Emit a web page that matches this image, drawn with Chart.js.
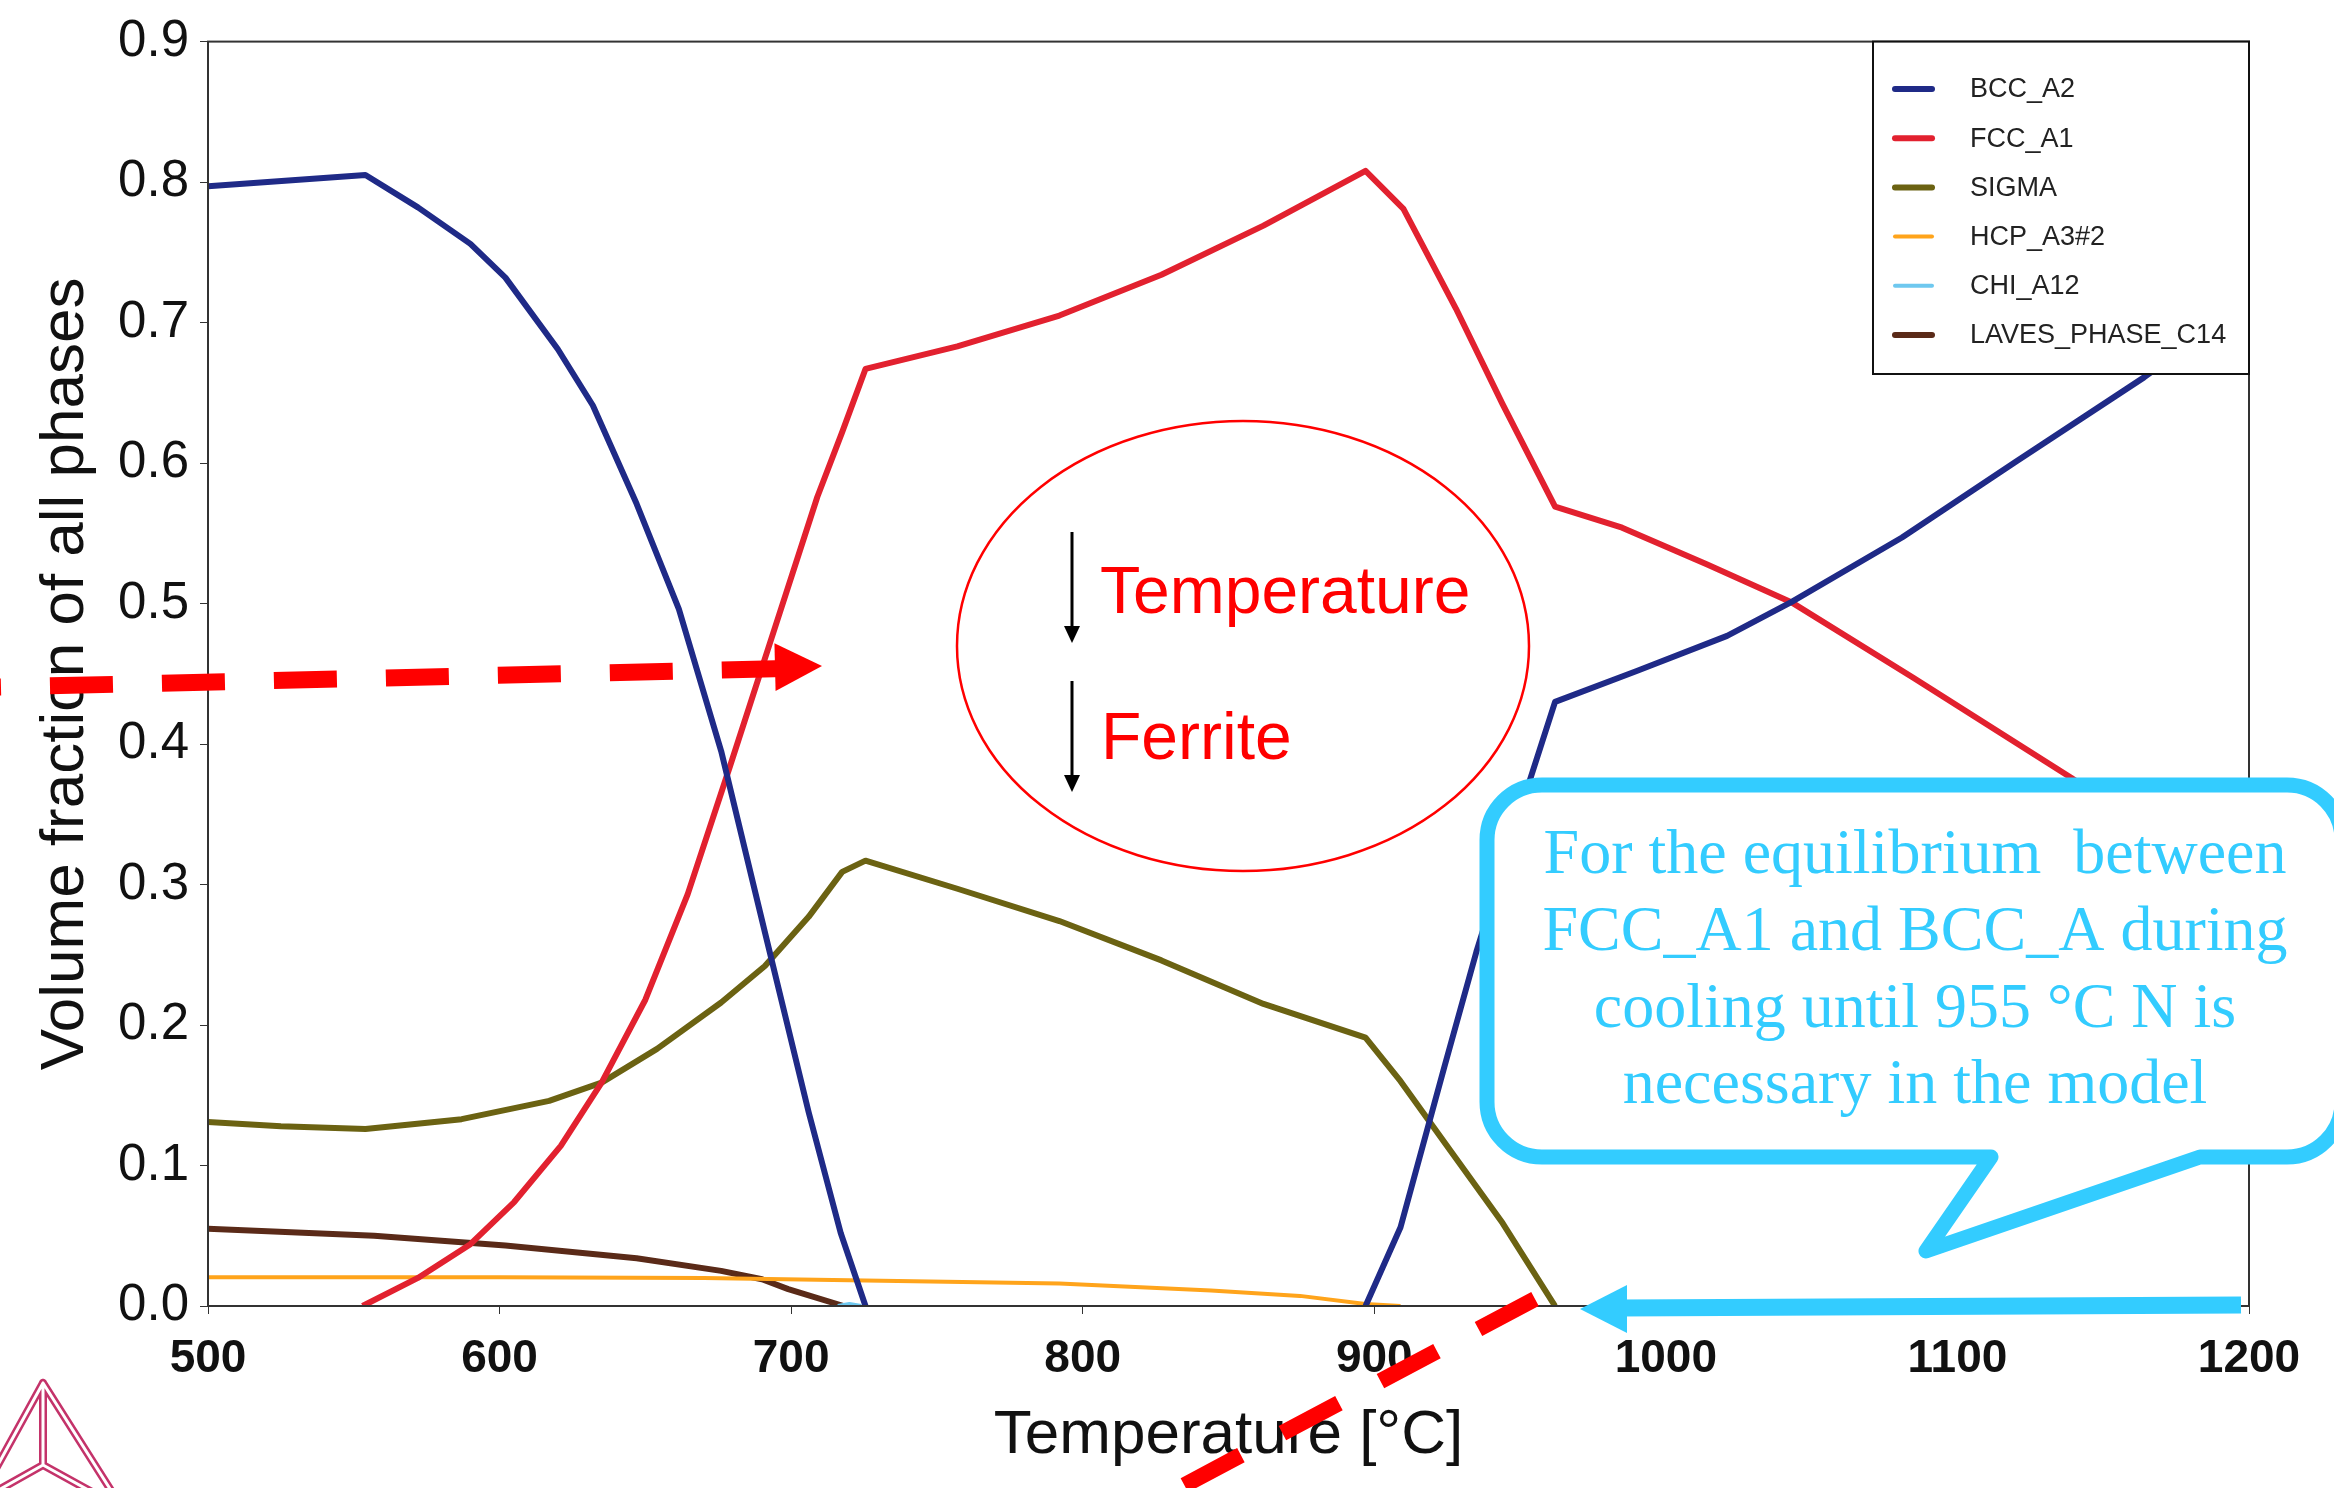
<!DOCTYPE html>
<html lang="en">
<head>
<meta charset="UTF-8">
<title>Volume fraction of all phases</title>
<style>
  html, body { margin: 0; padding: 0; background: #fff; }
  canvas { display: block; }
</style>
</head>
<body>
<canvas id="chart" width="2334" height="1488"></canvas>

<script src="https://cdn.jsdelivr.net/npm/chart.js@4.4.1/dist/chart.umd.min.js"></script>

<script>
// ------------------------------ data ------------------------------
// temperature [°C] and volume fraction for every phase (null = break in the line)
const bccT = [500, 554, 572, 590, 602, 620, 632, 647, 661.5, 676, 691, 706, 717, 725.5,
              800, 897, 909, 924, 935, 953, 962, 990, 1021, 1043, 1081, 1120, 1164, 1200];
const bccV = [0.797, 0.805, 0.782, 0.756, 0.732, 0.681, 0.641, 0.571, 0.496, 0.395, 0.266, 0.138, 0.052, 0.000,
              null, 0.000, 0.056, 0.170, 0.252, 0.372, 0.430, 0.452, 0.477, 0.501, 0.547, 0.601, 0.661, 0.715];

const fccT = [553, 572, 590, 605, 621, 635, 650, 664.5, 679, 694, 709, 717.5, 725.5, 757, 792, 827, 862, 897,
              910, 928, 944, 962, 985, 1014, 1043, 1085, 1139, 1200];
const fccV = [0.000, 0.020, 0.044, 0.074, 0.114, 0.159, 0.218, 0.293, 0.384, 0.480, 0.576, 0.622, 0.667, 0.683, 0.705, 0.734, 0.769, 0.808,
              0.781, 0.710, 0.642, 0.569, 0.554, 0.528, 0.501, 0.447, 0.376, 0.290];

const sigmaT = [500, 525, 554, 587, 617, 635, 654, 676, 691, 706, 717.5, 725.5, 757, 792, 827, 862, 897, 909, 927, 944, 962];
const sigmaV = [0.131, 0.128, 0.126, 0.133, 0.146, 0.159, 0.183, 0.216, 0.242, 0.277, 0.309, 0.317, 0.297, 0.274, 0.246, 0.215, 0.191, 0.160, 0.108, 0.059, 0.000];

const hcpT = [500, 600, 670, 731, 792, 844, 874.5, 897, 909];
const hcpV = [0.0205, 0.0205, 0.020, 0.018, 0.016, 0.011, 0.0072, 0.0015, 0.000];

const chiT = [716, 720, 724];
const chiV = [0.000, 0.0015, 0.000];

const lavesT = [500, 557, 602, 647, 676, 690, 699, 718];
const lavesV = [0.055, 0.050, 0.043, 0.034, 0.025, 0.019, 0.012, 0.000];

// axis ticks
const xTicks = [500, 600, 700, 800, 900, 1000, 1100, 1200];
const yTicks = ['0.0', '0.1', '0.2', '0.3', '0.4', '0.5', '0.6', '0.7', '0.8', '0.9'];

// pair up temperature / fraction arrays into {x, y} points
function pts(t, v) {
	return t.map((x, i) => ({ x: x, y: v[i] }));
}

// ------------------------------ datasets ------------------------------
const data = {
	datasets: [
		{ label: 'BCC_A2',          data: pts(bccT, bccV),     borderColor: '#1f2a87', borderWidth: 6 },
		{ label: 'FCC_A1',          data: pts(fccT, fccV),     borderColor: '#e2212f', borderWidth: 6 },
		{ label: 'SIGMA',           data: pts(sigmaT, sigmaV), borderColor: '#6b6212', borderWidth: 6 },
		{ label: 'HCP_A3#2',        data: pts(hcpT, hcpV),     borderColor: '#ffa41b', borderWidth: 4 },
		{ label: 'CHI_A12',         data: pts(chiT, chiV),     borderColor: '#6ec8ef', borderWidth: 4 },
		{ label: 'LAVES_PHASE_C14', data: pts(lavesT, lavesV), borderColor: '#5a2a18', borderWidth: 6 },
	]
};

// ------------------------------ drawing helpers ------------------------------
function arrowHead(ctx, tipX, tipY, dirX, dirY, len, half, color) {
	const n = Math.hypot(dirX, dirY);
	const ux = dirX / n, uy = dirY / n;
	const bx = tipX - ux * len, by = tipY - uy * len;
	ctx.fillStyle = color;
	ctx.beginPath();
	ctx.moveTo(tipX, tipY);
	ctx.lineTo(bx - uy * half, by + ux * half);
	ctx.lineTo(bx + uy * half, by - ux * half);
	ctx.closePath();
	ctx.fill();
}

function calloutPath(ctx) {
	const L = 1487, T = 785, R = 2342, B = 1157, r = 55;
	ctx.beginPath();
	ctx.moveTo(L + r, T);
	ctx.lineTo(R - r, T);
	ctx.arcTo(R, T, R, T + r, r);
	ctx.lineTo(R, B - r);
	ctx.arcTo(R, B, R - r, B, r);
	ctx.lineTo(2200, B);
	ctx.lineTo(1926, 1251);   // tip of the speech bubble
	ctx.lineTo(1991, B);
	ctx.lineTo(L + r, B);
	ctx.arcTo(L, B, L, B - r, r);
	ctx.lineTo(L, T + r);
	ctx.arcTo(L, T, L + r, T, r);
	ctx.closePath();
}

// box around the plot + legend box in the top right corner
const framePlugin = {
	id: 'frame',
	afterDatasetsDraw(chart) {
		const { ctx, chartArea: a } = chart;
		ctx.save();
		ctx.strokeStyle = '#333';
		ctx.lineWidth = 2;
		ctx.strokeRect(a.left, a.top, a.right - a.left, a.bottom - a.top);

		// legend
		const lx = 1873, ly = a.top, lw = a.right - 1873, lh = 374 - a.top;
		ctx.fillStyle = '#fff';
		ctx.fillRect(lx, ly, lw, lh);
		ctx.strokeStyle = '#111';
		ctx.lineWidth = 2;
		ctx.strokeRect(lx, ly, lw, lh);
		ctx.font = '27px "Liberation Sans", Arial, sans-serif';
		ctx.textBaseline = 'middle';
		ctx.textAlign = 'left';
		ctx.lineCap = 'round';
		chart.data.datasets.forEach((ds, i) => {
			const y = 89 + i * 49.2;
			ctx.strokeStyle = ds.borderColor;
			ctx.lineWidth = ds.borderWidth === 6 ? 6 : 4;
			ctx.beginPath();
			ctx.moveTo(1895, y);
			ctx.lineTo(1932, y);
			ctx.stroke();
			ctx.fillStyle = '#222';
			ctx.fillText(ds.label, 1970, y + 1);
		});
		ctx.restore();
	},

	// annotations laid over the whole figure
	afterDraw(chart) {
		const ctx = chart.ctx;
		ctx.save();

		// red ellipse with the two notes
		ctx.strokeStyle = '#ff0000';
		ctx.lineWidth = 2.5;
		ctx.beginPath();
		ctx.ellipse(1243, 646, 286, 225, 0, 0, Math.PI * 2);
		ctx.stroke();

		ctx.strokeStyle = '#000';
		ctx.lineWidth = 3;
		ctx.beginPath();
		ctx.moveTo(1072, 532); ctx.lineTo(1072, 630);
		ctx.moveTo(1072, 681); ctx.lineTo(1072, 778);
		ctx.stroke();
		arrowHead(ctx, 1072, 643, 0, 1, 17, 8, '#000');
		arrowHead(ctx, 1072, 792, 0, 1, 17, 8, '#000');

		ctx.fillStyle = '#ff0000';
		ctx.font = '66px "Liberation Sans", Arial, sans-serif';
		ctx.textBaseline = 'alphabetic';
		ctx.textAlign = 'left';
		ctx.fillText('Temperature', 1100, 613);
		ctx.fillText('Ferrite', 1101, 759);

		// speech bubble
		calloutPath(ctx);
		ctx.fillStyle = '#fff';
		ctx.fill();
		ctx.strokeStyle = '#33ccff';
		ctx.lineWidth = 15;
		ctx.lineJoin = 'round';
		ctx.stroke();

		ctx.fillStyle = '#33ccff';
		ctx.font = '64px "Liberation Serif", "Times New Roman", serif';
		ctx.textAlign = 'center';
		ctx.fillText('For the equilibrium  between', 1915, 873);
		ctx.fillText('FCC_A1 and BCC_A during', 1915, 950);
		ctx.fillText('cooling until 955 \u00B0C N is', 1915, 1027);
		ctx.fillText('necessary in the model', 1915, 1103);

		// blue arrow along the temperature axis
		ctx.strokeStyle = '#33ccff';
		ctx.lineWidth = 17;
		ctx.lineCap = 'butt';
		ctx.beginPath();
		ctx.moveTo(2241, 1305);
		ctx.lineTo(1620, 1308);
		ctx.stroke();
		arrowHead(ctx, 1580, 1309, -1, 0, 47, 24, '#33ccff');

		// red dashed arrows
		ctx.strokeStyle = '#ff0000';
		ctx.lineWidth = 17;
		ctx.setLineDash([63, 49]);
		ctx.beginPath();
		ctx.moveTo(-62, 688.5);
		ctx.lineTo(786, 668.5);
		ctx.stroke();
		ctx.setLineDash([]);
		arrowHead(ctx, 822, 666, 1, -0.024, 47, 24, '#ff0000');

		ctx.lineWidth = 16;
		ctx.setLineDash([64, 47]);
		ctx.beginPath();
		ctx.moveTo(1535, 1299);
		ctx.lineTo(1100, 1530);
		ctx.stroke();
		ctx.setLineDash([]);

		// small tetrahedron logo in the lower left corner
		const edges = [
			[[43, 1383], [-17, 1492]],
			[[43, 1383], [112, 1492]],
			[[43, 1383], [43, 1465]],
			[[43, 1465], [-5, 1492]],
			[[43, 1465], [92, 1492]],
		];
		ctx.lineCap = 'round';
		[[8, '#c4336a'], [3, '#ffffff']].forEach(([w, c]) => {
			ctx.lineWidth = w;
			ctx.strokeStyle = c;
			ctx.beginPath();
			edges.forEach(([p, q]) => { ctx.moveTo(p[0], p[1]); ctx.lineTo(q[0], q[1]); });
			ctx.stroke();
		});

		ctx.restore();
	}
};

// ------------------------------ config ------------------------------
Chart.defaults.font.family = '"Liberation Sans", Arial, sans-serif';
Chart.defaults.color = '#111';

const config = {
	type: 'line',
	data: data,
	options: {
		responsive: false,
		animation: false,
		layout: { padding: { top: 39, right: 85, bottom: 0, left: 0 } },
		elements: {
			point: { radius: 0 },
			line: { tension: 0, borderCapStyle: 'butt', borderJoinStyle: 'round' }
		},
		spanGaps: false,
		plugins: {
			legend: { display: false },
			tooltip: { enabled: false }
		},
		scales: {
			x: {
				type: 'linear',
				min: 500,
				max: 1200,
				afterBuildTicks: (s) => { s.ticks = xTicks.map(v => ({ value: v })); },
				afterFit: (s) => { s.height = 182; },
				ticks: {
					font: { size: 46, weight: 'bold' },
					color: '#111',
					padding: 18,
					maxRotation: 0,
					autoSkip: false,
					callback: (v) => String(v)
				},
				grid: { drawOnChartArea: false, drawTicks: true, tickLength: 8, tickColor: '#333' },
				border: { display: true, color: '#333', width: 2 },
				title: {
					display: true,
					text: 'Temperature [\u00B0C]',
					font: { size: 62 },
					color: '#111',
					padding: { top: 0, bottom: 15 }
				}
			},
			y: {
				type: 'linear',
				min: 0,
				max: 0.9,
				afterBuildTicks: (s) => { s.ticks = yTicks.map(v => ({ value: parseFloat(v) })); },
				afterFit: (s) => { s.width = 208; },
				ticks: {
					font: { size: 51 },
					color: '#111',
					padding: 11,
					callback: (v, i) => yTicks[i]
				},
				grid: { drawOnChartArea: false, drawTicks: true, tickLength: 8, tickColor: '#333' },
				border: { display: true, color: '#333', width: 2 },
				title: {
					display: true,
					text: 'Volume fraction of all phases',
					font: { size: 62 },
					color: '#111',
					padding: { top: 29, bottom: 0 }
				}
			}
		}
	},
	plugins: [framePlugin]
};

const resultChart = new Chart(document.getElementById('chart'), config);
</script>
</body>
</html>
